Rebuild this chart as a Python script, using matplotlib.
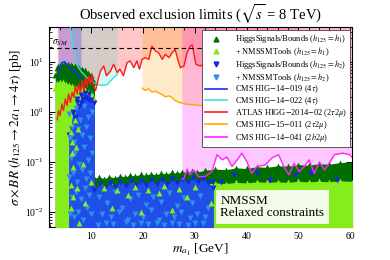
import numpy as np
import matplotlib
matplotlib.use("Agg")
import matplotlib.pyplot as plt
from matplotlib.lines import Line2D

plt.rcParams['font.family'] = ['Liberation Serif', 'DejaVu Serif']
plt.rcParams['mathtext.fontset'] = 'stix'

## experimental limit curves (pb)
cms19_m = [3.6, 4.0, 4.4, 4.8, 5.2, 5.6, 6.0, 6.4, 6.8, 7.2, 7.6, 8.0]
cms19_v = [6.0, 8.0, 9.8, 10.2, 9.0, 8.2, 7.0, 6.2, 6.8, 5.8, 5.0, 4.4]

cms22_m = [5.0, 6.0, 6.5, 7.0, 7.5, 8.0, 8.5, 9.0, 9.5, 10.0, 11.0, 12.0, 13.0, 14.0, 15.0]
cms22_v = [200, 45, 20, 11, 7.7, 6.5, 5.7, 5.0, 4.5, 4.2, 3.6, 3.4, 3.5, 4.5, 5.7]

atlas_m = [3.4, 3.65, 3.97, 4.3, 4.6, 4.97, 5.3, 5.6, 5.94, 6.27, 6.58, 6.9, 7.23, 7.54,
           7.87, 8.2, 8.5, 8.84, 9.17, 9.48, 9.8, 10.1, 10.4, 10.8, 11.1, 11.4, 11.74,
           12.4, 12.9, 13.7, 14.3, 15.0, 15.5, 16.2, 16.9, 17.5, 18.2, 18.8, 19.3, 19.8,
           20.4, 21.1, 21.7, 22.4, 23.0, 23.7, 24.3, 25.0, 25.6, 26.2, 26.7, 27.2, 27.9,
           28.5, 29.1, 29.5, 30.2, 31.1, 33, 35, 37, 39, 41, 43, 45, 47, 49, 50]
atlas_v = [0.70, 1.07, 0.85, 1.45, 1.07, 1.83, 1.34, 2.29, 1.56, 2.47, 1.96, 3.35, 2.29, 3.62,
           2.47, 4.2, 2.67, 4.9, 3.1, 5.3, 3.6, 5.7, 3.35, 2.67, 3.6, 4.9, 6.6,
           8.3, 5.3, 6.6, 9.0, 6.1, 7.2, 5.3, 9.7, 10.5, 7.7, 10.5, 7.2, 11.3,
           12.2, 11.3, 20.7, 16.5, 15.3, 11.3, 14.2, 12.2, 15.3, 17.8, 11.3, 7.7, 8.3,
           15.3, 20.7, 22.0, 9.0, 8.3, 12, 16, 10, 14, 18, 11, 15, 12, 16, 13]

cms15_m = [19.8, 20.4, 21.1, 21.7, 22.4, 23.0, 23.7, 24.3, 25.0, 25.6, 26.2, 27.0, 28.0,
           29.5, 31.0, 35, 40, 45, 50, 55, 60.5]
cms15_v = [3.0, 2.7, 2.9, 2.5, 2.6, 2.4, 2.25, 2.0, 2.1, 1.95, 1.7, 1.55, 1.45,
           1.4, 1.35, 1.25, 1.15, 1.05, 0.95, 0.88, 0.82]

cms41_m = [27.5, 27.9, 28.5, 29.1, 29.8, 30.7, 32.0, 33.3, 34.3, 35.3, 36.2, 37.2, 38.2,
           39.1, 40.1, 41.0, 42.0, 43.6, 44.9, 46.2, 47.2, 48.2, 49.2, 50.2, 51.2,
           52.1, 53.1, 54.1, 55.1, 56.0, 57.0, 58.6, 59.9, 60.5]
cms41_v = [0.045, 0.047, 0.072, 0.055, 0.069, 0.051, 0.051, 0.064, 0.14, 0.11, 0.126, 0.081,
           0.11, 0.15, 0.10, 0.059, 0.081, 0.087, 0.12, 0.14, 0.081, 0.055, 0.094,
           0.064, 0.081, 0.11, 0.059, 0.10, 0.069, 0.094, 0.14, 0.15, 0.14, 0.12]

sigma_sm = 19.3

## NMSSM scan envelopes, low mass column (m_a1 < 10.6) and high mass band
hs1_lo_m = [3.0, 3.3, 3.6, 3.9, 4.2, 4.5, 4.8, 5.1, 5.4, 5.7, 6.0, 6.3, 6.6, 6.9, 7.2,
            7.5, 7.8, 8.1, 8.4, 8.7, 9.0, 9.3, 9.6, 9.9, 10.2, 10.6]
hs1_lo_v = [5.5, 7.5, 8.5, 7.8, 9.0, 8.2, 9.3, 8.6, 9.0, 8.0, 8.8, 8.2, 7.6, 8.5, 7.4,
            7.8, 6.9, 7.2, 6.2, 6.8, 5.6, 6.1, 5.0, 5.6, 4.6, 4.0]
nt1_lo_v = [3.0, 3.8, 3.3, 4.0, 3.4, 3.9, 3.2, 3.7, 3.1, 3.5, 2.9, 3.3, 2.8, 3.2, 2.7,
            3.0, 2.6, 2.9, 2.4, 2.7, 2.3, 2.5, 2.1, 2.4, 2.0, 1.8]

hs1_hi_m = [10.6, 11.5, 12.5, 13.5, 14.5, 15.5, 16.5, 17.5, 18.5, 19.5, 20.5, 21.5, 22.5,
            23.5, 24.5, 25.5, 26.5, 27.5, 28.5, 29.5, 30.5, 32, 34, 36, 38, 40, 42, 44,
            46, 48, 50, 52, 54, 56, 58, 60.5]
hs1_hi_v = [0.047, 0.05, 0.046, 0.051, 0.048, 0.053, 0.05, 0.055, 0.052, 0.057, 0.054,
            0.058, 0.055, 0.06, 0.057, 0.062, 0.059, 0.064, 0.061, 0.066, 0.063, 0.068,
            0.072, 0.07, 0.076, 0.074, 0.08, 0.078, 0.084, 0.082, 0.088, 0.086, 0.092,
            0.09, 0.097, 0.1]
nt1_hi_m = [10.6, 12, 14, 16, 18, 20, 22, 24, 26, 28, 30, 32, 34, 36, 38, 40, 42, 44,
            46, 48, 50, 52, 54, 56, 58, 60.5]
nt1_hi_v = [0.03, 0.031, 0.033, 0.032, 0.034, 0.033, 0.035, 0.034, 0.036, 0.035, 0.037,
            0.036, 0.038, 0.037, 0.039, 0.038, 0.04, 0.039, 0.04, 0.039, 0.041, 0.04,
            0.041, 0.04, 0.042, 0.041]

hs2_lo_m = [5.6, 6.0, 6.4, 6.8, 7.2, 7.6, 8.0, 8.4, 8.8, 9.2, 9.6, 10.0, 10.6]
hs2_lo_v = [0.35, 0.5, 0.95, 0.8, 1.6, 1.3, 2.2, 1.8, 2.4, 1.9, 2.3, 1.7, 1.5]
hs2_hi_m = [10.6, 11.6, 12.6, 13.6, 14.6, 15.6, 16.6, 17.6, 18.6, 19.6, 20.6, 21.6,
            22.6, 23.6, 24.6, 25.6, 26.6, 27.6, 28.6, 29.6, 30.6, 31.6, 32.6, 33.6]
hs2_hi_v = [0.028, 0.036, 0.03, 0.038, 0.032, 0.04, 0.033, 0.041, 0.034, 0.042, 0.035,
            0.043, 0.036, 0.044, 0.037, 0.045, 0.038, 0.046, 0.039, 0.047, 0.04, 0.046,
            0.038, 0.03]

## individual scan points
nt2_m = [5.6, 6.3, 7.0, 7.8, 8.6, 9.4, 10.1, 5.9, 6.7, 7.4, 8.2, 9.0, 9.8, 6.0, 6.9,
         7.7, 8.5, 9.3, 10.2, 5.7, 6.5, 7.3, 8.1, 8.9, 9.7, 6.2, 7.1, 7.9, 8.8, 9.6,
         5.8, 6.6, 7.5, 8.4, 9.2, 10.0,
         11.5, 13, 14.5, 16, 17.5, 19, 20.5, 22, 23.5, 25, 26.5, 28, 29.5, 31, 32.5,
         12, 13.8, 15.3, 17, 18.4, 20, 21.6, 23, 24.4, 26, 27.4, 29, 30.5, 32,
         11.2, 12.8, 14.2, 16.6, 18, 19.6, 21, 22.7, 24, 25.6, 27, 28.6, 30, 31.6]
nt2_v = [0.9, 0.5, 1.2, 0.7, 1.3, 0.8, 1.0, 0.3, 0.25, 0.45, 0.35, 0.5, 0.3, 0.12, 0.15,
         0.09, 0.2, 0.11, 0.15, 0.05, 0.06, 0.04, 0.07, 0.045, 0.06, 0.02, 0.025, 0.018,
         0.03, 0.022, 0.009, 0.008, 0.01, 0.007, 0.012, 0.009,
         0.02, 0.015, 0.025, 0.012, 0.018, 0.022, 0.014, 0.02, 0.016, 0.024, 0.013,
         0.019, 0.015, 0.021, 0.012,
         0.009, 0.008, 0.01, 0.007, 0.009, 0.008, 0.011, 0.007, 0.009, 0.008, 0.01,
         0.0075, 0.009, 0.008,
         0.0055, 0.006, 0.0058, 0.0062, 0.0056, 0.006, 0.0057, 0.0061, 0.0055, 0.006,
         0.0058, 0.0056, 0.006, 0.0059]

nt1_m = [5.9, 6.1, 6.3, 6.4, 7.2, 6.0, 6.0, 7.6, 8.7, 6.2, 6.8, 9.9, 8.3, 7.0, 6.5, 7.4,
         12.5, 15, 18.5, 21, 24, 27, 30, 14, 19.5, 25.5, 17, 23, 28.5, 33.2]
nt1_v = [0.6, 0.4, 0.15, 0.08, 0.03, 0.035, 0.012, 0.006, 0.015, 0.25, 0.7, 0.04, 0.09, 0.2,
         0.02, 0.45,
         0.03, 0.028, 0.032, 0.027, 0.033, 0.029, 0.031, 0.012, 0.01, 0.011, 0.022, 0.024,
         0.02, 0.015]

hs2_m = [7.2, 8.0, 8.8, 9.6, 6.4, 33.6, 35.0, 37.5, 42.0, 44.6, 49.5, 52.4, 57.5]
hs2_v = [1.8, 1.5, 2.0, 1.7, 1.0, 0.04, 0.04, 0.055, 0.059, 0.044, 0.055, 0.06, 0.044]

c_hs1 = '#006f00'
c_nt1 = '#86ec1c'
c_hs2 = '#1428e0'
c_nt2 = '#2f8ff0'
c_mid = '#1f4fe6'

fig = plt.figure(figsize=(3.9, 2.6), dpi=100)
ax = fig.add_axes([0.1256, 0.127, 0.777, 0.769])
ax.set_yscale('log')

# excluded regions
a = 0.22
ax.fill_between(atlas_m, atlas_v, 100, color='red', alpha=a, lw=0, zorder=1)
ax.fill_between(cms22_m, cms22_v, 100, color='#40e0d0', alpha=a, lw=0, zorder=1)
ax.fill_between(cms19_m, cms19_v, 100, color='blue', alpha=a, lw=0, zorder=1)
ax.fill_between(cms15_m, cms15_v, 100, color='#ffa500', alpha=a, lw=0, zorder=1)
ax.fill_between(cms41_m, cms41_v, 100, color='magenta', alpha=a, lw=0, zorder=1)

# scan points
ms = 18
ax.fill_between(hs1_lo_m, 1e-3, hs1_lo_v, color=c_hs1, lw=0, zorder=2)
ax.fill_between(hs1_hi_m, 1e-3, hs1_hi_v, color=c_hs1, lw=0, zorder=2)
ax.scatter(hs1_lo_m + hs1_hi_m, hs1_lo_v + hs1_hi_v, marker='^', s=ms, color=c_hs1, lw=0, zorder=2)
ax.fill_between(hs1_lo_m, 1e-3, nt1_lo_v, color=c_nt1, lw=0, zorder=3)
ax.fill_between(nt1_hi_m, 1e-3, nt1_hi_v, color=c_nt1, lw=0, zorder=3)
ax.scatter(hs1_lo_m + nt1_hi_m, nt1_lo_v + nt1_hi_v, marker='^', s=ms, color=c_nt1, lw=0, zorder=3)
ax.fill_between(hs2_lo_m, 1e-3, hs2_lo_v, color=c_mid, lw=0, zorder=4)
ax.fill_between(hs2_hi_m, 1e-3, hs2_hi_v, color=c_mid, lw=0, zorder=4)
ax.scatter(hs2_lo_m + hs2_hi_m, hs2_lo_v + hs2_hi_v, marker='v', s=ms, color=c_hs2, lw=0, zorder=4)
ax.scatter(nt2_m, nt2_v, marker='v', s=ms, color=c_nt2, lw=0, zorder=5)
ax.scatter(nt1_m, nt1_v, marker='^', s=ms, color=c_nt1, lw=0, zorder=5)
ax.scatter(hs2_m, hs2_v, marker='v', s=ms, color=c_hs2, lw=0, zorder=5)

# limit curves
lw = 1.0
ax.plot(cms22_m, cms22_v, color='#40e0d0', lw=lw, zorder=6)
ax.plot(cms19_m, cms19_v, color='#1030ff', lw=lw, zorder=6)
ax.plot(atlas_m, atlas_v, color='#ff1a1a', lw=lw, zorder=6)
ax.plot(cms15_m, cms15_v, color='#ffa500', lw=lw, zorder=6)
ax.plot(cms41_m, cms41_v, color='#ff22ff', lw=lw, zorder=6)

ax.axhline(sigma_sm, color='k', ls='--', lw=0.8, dashes=(4, 3), zorder=6)
ax.text(2.3, 22, r'$\sigma_{SM}$', fontsize=7, zorder=7)

ax.set_xlim(1.8, 60.4)
ax.set_ylim(0.005, 50)
ax.xaxis.set_major_locator(plt.MultipleLocator(10))
ax.xaxis.set_minor_locator(plt.MultipleLocator(2))
ax.tick_params(which='both', direction='in', top=True, right=True, labelsize=7)
ax.tick_params(which='major', length=4, width=0.7)
ax.tick_params(which='minor', length=2, width=0.6)
for s in ax.spines.values():
    s.set_linewidth(0.8)

ax.set_xlabel(r'$m_{a_1}$ [GeV]', fontsize=9.5, labelpad=1)
ax.set_ylabel(r'$\sigma \times BR\ (h_{125} \rightarrow 2a_1 \rightarrow 4\tau)$ [pb]', fontsize=9.5, labelpad=1)
ax.set_title(r'Observed exclusion limits ($\sqrt{s}$ = 8 TeV)', fontsize=10.5, pad=5)

handles = [
    Line2D([], [], ls='none', marker='^', ms=3.5, color=c_hs1),
    Line2D([], [], ls='none', marker='^', ms=3.5, color=c_nt1),
    Line2D([], [], ls='none', marker='v', ms=3.5, color=c_hs2),
    Line2D([], [], ls='none', marker='v', ms=3.5, color=c_nt2),
    Line2D([], [], color='#1030ff', lw=1.2),
    Line2D([], [], color='#40e0d0', lw=1.2),
    Line2D([], [], color='#ff1a1a', lw=1.2),
    Line2D([], [], color='#ffa500', lw=1.2),
    Line2D([], [], color='#ff22ff', lw=1.2),
]
labels = [
    r'HiggsSignals/Bounds ($h_{125} = h_1$)',
    r'+ NMSSMTools ($h_{125} = h_1$)',
    r'HiggsSignals/Bounds ($h_{125} = h_2$)',
    r'+ NMSSMTools ($h_{125} = h_2$)',
    r'CMS HIG$-$14$-$019 (4$\tau$)',
    r'CMS HIG$-$14$-$022 (4$\tau$)',
    r'ATLAS HIGG$-$2014$-$02 (2$\tau$2$\mu$)',
    r'CMS HIG$-$15$-$011 (2$\tau$2$\mu$)',
    r'CMS HIG$-$14$-$041 (2$b$2$\mu$)',
]
leg = ax.legend(handles, labels, loc='upper right', fontsize=6.0, frameon=True,
                fancybox=False, framealpha=1, edgecolor='0.35', handlelength=2.6,
                handletextpad=0.9, labelspacing=0.0, borderaxespad=0.3, borderpad=0.35)
leg.get_frame().set_linewidth(0.7)
leg.set_zorder(10)

ax.text(0.565, 0.04, 'NMSSM\nRelaxed constraints', transform=ax.transAxes, fontsize=9.5,
        linespacing=1.05, va='bottom', ha='left', zorder=9,
        bbox=dict(boxstyle='square,pad=0.35', fc='#f1fbe7', ec='none'))

fig.savefig('out.png', dpi=100)
